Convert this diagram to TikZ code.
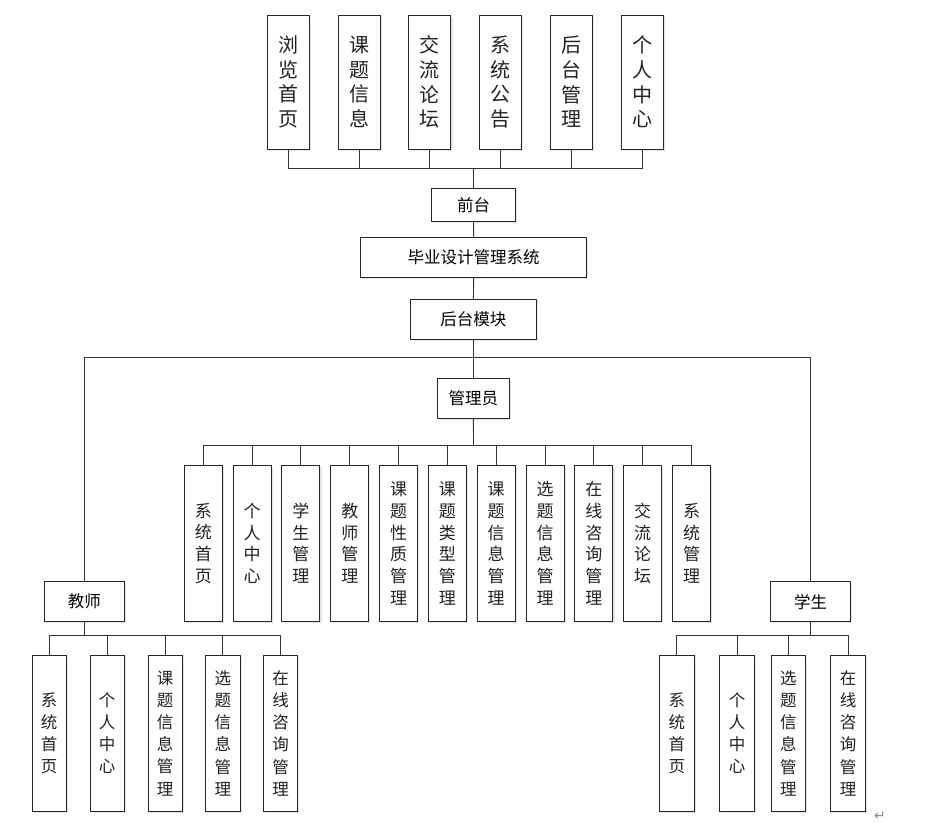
\documentclass[tikz,border=0pt]{standalone}
\usepackage{fontspec}
\setmainfont{Noto Sans CJK SC}
\newfontfamily\symfont{DejaVu Sans}
\usetikzlibrary{shadows}
\definecolor{txtc}{HTML}{222222}
\definecolor{shc}{HTML}{9DB4D8}
\begin{document}
\begin{tikzpicture}[x=1pt,y=-1pt,
  boxbase/.style={draw=black!85, line width=0.9pt, fill=white, inner sep=0pt,
    drop shadow={shadow xshift=1.6pt, shadow yshift=-1.6pt, fill=shc, opacity=0.35}},
  topv/.style={boxbase, minimum width=42pt, minimum height=134pt, align=center,
    font=\fontsize{20}{24.6}\selectfont, text=txtc},
  admv/.style={boxbase, minimum width=38pt, minimum height=156.7pt, align=center,
    font=\fontsize{17}{21.7}\selectfont, text=txtc},
  subv/.style={boxbase, minimum width=34.5pt, minimum height=155.7pt, align=center,
    font=\fontsize{16.5}{22.2}\selectfont, text=txtc},
  lab/.style={boxbase, minimum height=40pt, font=\fontsize{16.5}{20}\selectfont, text=black},
  conn/.style={draw=black!80, line width=0.9pt}]
\useasboundingbox (0,0) rectangle (932,830);

% top front-end modules
\node[topv] (t1) at (288.3,82) {浏\\览\\首\\页};
\node[topv] (t2) at (359.2,82) {课\\题\\信\\息};
\node[topv] (t3) at (429.9,82) {交\\流\\论\\坛};
\node[topv] (t4) at (500.7,82) {系\\统\\公\\告};
\node[topv] (t5) at (571.5,82) {后\\台\\管\\理};
\node[topv] (t6) at (642.5,82) {个\\人\\中\\心};

\node[lab, minimum width=84.4pt, minimum height=33pt] (qt) at (473.5,205.2) {前台};
\node[lab, minimum width=226pt] (sys) at (473.7,257.3) {毕业设计管理系统};
\node[lab, minimum width=125.3pt] (ht) at (473.4,319) {后台模块};
\node[lab, minimum width=72pt] (gl) at (473.4,398.3) {管理员};
\node[lab, minimum width=80pt] (js) at (84.3,601.7) {教师};
\node[lab, minimum width=79.6pt] (xs) at (810.5,601.7) {学生};

% admin modules
\node[admv] (a1) at (203.3,543.3) {系\\统\\首\\页};
\node[admv] (a2) at (252.1,543.3) {个\\人\\中\\心};
\node[admv] (a3) at (300.9,543.3) {学\\生\\管\\理};
\node[admv] (a4) at (349.8,543.3) {教\\师\\管\\理};
\node[admv] (a5) at (398.6,543.3) {课\\题\\性\\质\\管\\理};
\node[admv] (a6) at (447.4,543.3) {课\\题\\类\\型\\管\\理};
\node[admv] (a7) at (496.2,543.3) {课\\题\\信\\息\\管\\理};
\node[admv] (a8) at (545.1,543.3) {选\\题\\信\\息\\管\\理};
\node[admv] (a9) at (593.9,543.3) {在\\线\\咨\\询\\管\\理};
\node[admv] (a10) at (642.7,543.3) {交\\流\\论\\坛};
\node[admv] (a11) at (691.5,543.3) {系\\统\\管\\理};

% teacher modules
\node[subv] (j1) at (49.2,733.2) {系\\统\\首\\页};
\node[subv] (j2) at (107.2,733.2) {个\\人\\中\\心};
\node[subv] (j3) at (165.2,733.2) {课\\题\\信\\息\\管\\理};
\node[subv] (j4) at (222.8,733.2) {选\\题\\信\\息\\管\\理};
\node[subv] (j5) at (280.5,733.2) {在\\线\\咨\\询\\管\\理};

% student modules
\node[subv] (s1) at (676.8,733.2) {系\\统\\首\\页};
\node[subv] (s2) at (737,733.2) {个\\人\\中\\心};
\node[subv] (s3) at (788.3,733.2) {选\\题\\信\\息\\管\\理};
\node[subv] (s4) at (848,733.2) {在\\线\\咨\\询\\管\\理};

% junction coordinates
\coordinate (jt) at (473.5,168.3);
\coordinate (jh) at (473.5,357.3);
\coordinate (ja) at (473.5,445.7);
\coordinate (jj) at (84.3,635.7);
\coordinate (jx) at (810.5,635.7);

% connectors
\foreach \n in {t1,t2,t3,t4,t5,t6} \draw[conn] (\n.south) |- (jt);
\draw[conn] (jt) -- (qt.north);
\draw[conn] (qt.south) -- (sys.north);
\draw[conn] (sys.south) -- (ht.north);
\draw[conn] (ht.south) -- (gl.north);
\draw[conn] (js.north) |- (jh);
\draw[conn] (xs.north) |- (jh);
\draw[conn] (gl.south) -- (ja);
\foreach \n in {a1,a2,a3,a4,a5,a6,a7,a8,a9,a10,a11} \draw[conn] (\n.north) |- (ja);
\draw[conn] (js.south) -- (jj);
\foreach \n in {j1,j2,j3,j4,j5} \draw[conn] (\n.north) |- (jj);
\draw[conn] (xs.south) -- (jx);
\foreach \n in {s1,s2,s3,s4} \draw[conn] (\n.north) |- (jx);

% paragraph mark
\node[text=black!45, font=\symfont\fontsize{14}{14}\selectfont, inner sep=0pt] (ret) at (880,816) {↵};
\end{tikzpicture}
\end{document}
